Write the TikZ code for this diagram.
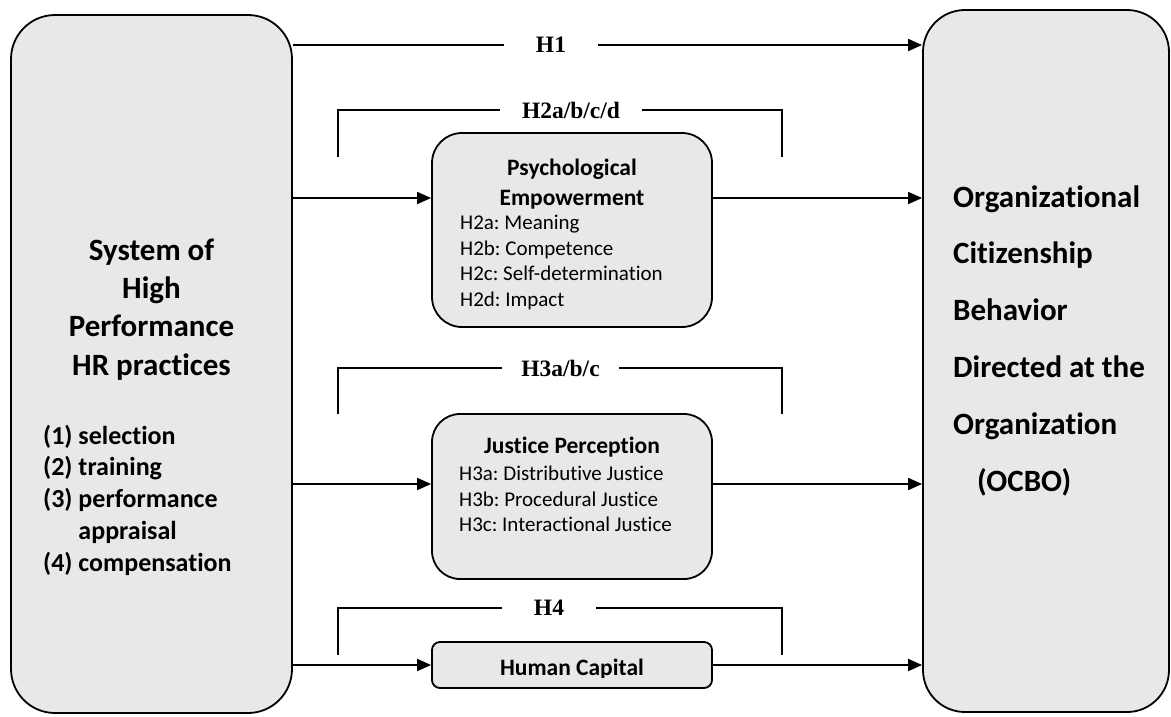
\documentclass[tikz,border=0pt]{standalone}
\usepackage{fontspec}
\setmainfont{Carlito}[Ligatures=NoCommon]
\newfontfamily\tnr{Liberation Serif}
\usetikzlibrary{arrows.meta,calc}
\definecolor{boxgray}{RGB}{232,232,232}
\frenchspacing
\begin{document}
\frenchspacing
\begin{tikzpicture}[x=1pt,y=-1pt,
  box/.style={draw=black, line width=1.8pt, fill=boxgray, inner sep=0pt},
  arr/.style={line width=1.8pt, -{Triangle[length=14pt,width=12pt]}},
  brk/.style={line width=1.4pt},
  hlab/.style={fill=white, inner sep=0pt, minimum height=22pt, font=\tnr\bfseries\fontsize{23.5}{27}\selectfont},
  bigtxt/.style={inner sep=0pt, font=\bfseries\fontsize{31}{38.2}\selectfont},
  midtitle/.style={inner sep=0pt, font=\bfseries\fontsize{23.5}{30}\selectfont, align=center},
  midlist/.style={inner sep=0pt, font=\fontsize{21}{25.5}\selectfont, align=left, anchor=west}]
\useasboundingbox (0,0) rectangle (1171,716);

% main boxes
\node[box, rounded corners=44pt, minimum width=281pt, minimum height=698pt] (hr) at (151.5,364) {};
\node[box, rounded corners=42pt, minimum width=246pt, minimum height=702pt] (ocbo) at (1046,361) {};
\node[box, rounded corners=30pt, minimum width=280pt, minimum height=194pt] (pe) at (572,230) {};
\node[box, rounded corners=28pt, minimum width=280pt, minimum height=165pt] (jp) at (572,496.5) {};
\node[box, rounded corners=8pt, minimum width=280pt, minimum height=46pt] (hc) at (572,665) {};

% texts of left box
\node[bigtxt, align=center] (hrtitle) at (151.5,309.5) {System of\\High\\Performance\\HR practices};
\node[inner sep=0pt, anchor=west, align=left, font=\bfseries\fontsize{26}{31.8}\selectfont] (hrlist) at (43,500)
  {(1) selection\\(2) training\\(3) performance\\\hphantom{(3)} appraisal\\(4) compensation};

% text of right box
\node[inner sep=0pt, anchor=west, align=left, font=\bfseries\fontsize{31}{56.8}\selectfont] (ocbotxt) at (953,340.5)
  {Organizational\\Citizenship\\Behavior\\Directed at the\\Organization\\\hspace*{24pt}(OCBO)};

% text of mediators
\node[midtitle] (petitle) at (572,184) {Psychological\\Empowerment};
\node[midlist] (pelist) at (460,262.5) {H2a: Meaning\\H2b: Competence\\H2c: Self-determination\\H2d: Impact};
\node[midtitle] (jptitle) at (572,447.5) {Justice Perception};
\node[midlist] (jplist) at (459,499) {H3a: Distributive Justice\\H3b: Procedural Justice\\H3c: Interactional Justice};
\begin{scope}
  \clip (hc.north west) rectangle (712,677);
  \node[inner sep=0pt, anchor=base, font=\bfseries\fontsize{23.5}{27}\selectfont] (hctxt) at (572,675.5) {Human Capital};
\end{scope}

% arrow levels
\coordinate (y1) at (0,45);
\coordinate (y2) at (0,198);
\coordinate (y3) at (0,484);
\coordinate (y4) at (0,665);

% H1
\draw[arr] (hr.east |- y1) -- (ocbo.west |- y1);
\node[hlab, minimum width=94pt] (h1) at (551,45) {H1};

% H2
\draw[arr] (hr.east |- y2) -- (pe.west |- y2);
\draw[arr] (pe.east |- y2) -- (ocbo.west |- y2);
\coordinate (b2l) at (338,157);
\coordinate (b2r) at (782,157);
\draw[brk] (b2l) -- (338,110) -- (782,110) -- (b2r);
\node[hlab, minimum width=142pt] (h2) at (571,110) {H2a/b/c/d};

% H3
\draw[arr] (hr.east |- y3) -- (jp.west |- y3);
\draw[arr] (jp.east |- y3) -- (ocbo.west |- y3);
\coordinate (b3l) at (338,414);
\coordinate (b3r) at (782,414);
\draw[brk] (b3l) -- (338,368) -- (782,368) -- (b3r);
\node[hlab, minimum width=117pt] (h3) at (560.5,368) {H3a/b/c};

% H4
\draw[arr] (hr.east |- y4) -- (hc.west |- y4);
\draw[arr] (hc.east |- y4) -- (ocbo.west |- y4);
\coordinate (b4l) at (338,655);
\coordinate (b4r) at (782,655);
\draw[brk] (b4l) -- (338,608) -- (782,608) -- (b4r);
\node[hlab, minimum width=94pt] (h4) at (549,608) {H4};
\end{tikzpicture}
\end{document}
